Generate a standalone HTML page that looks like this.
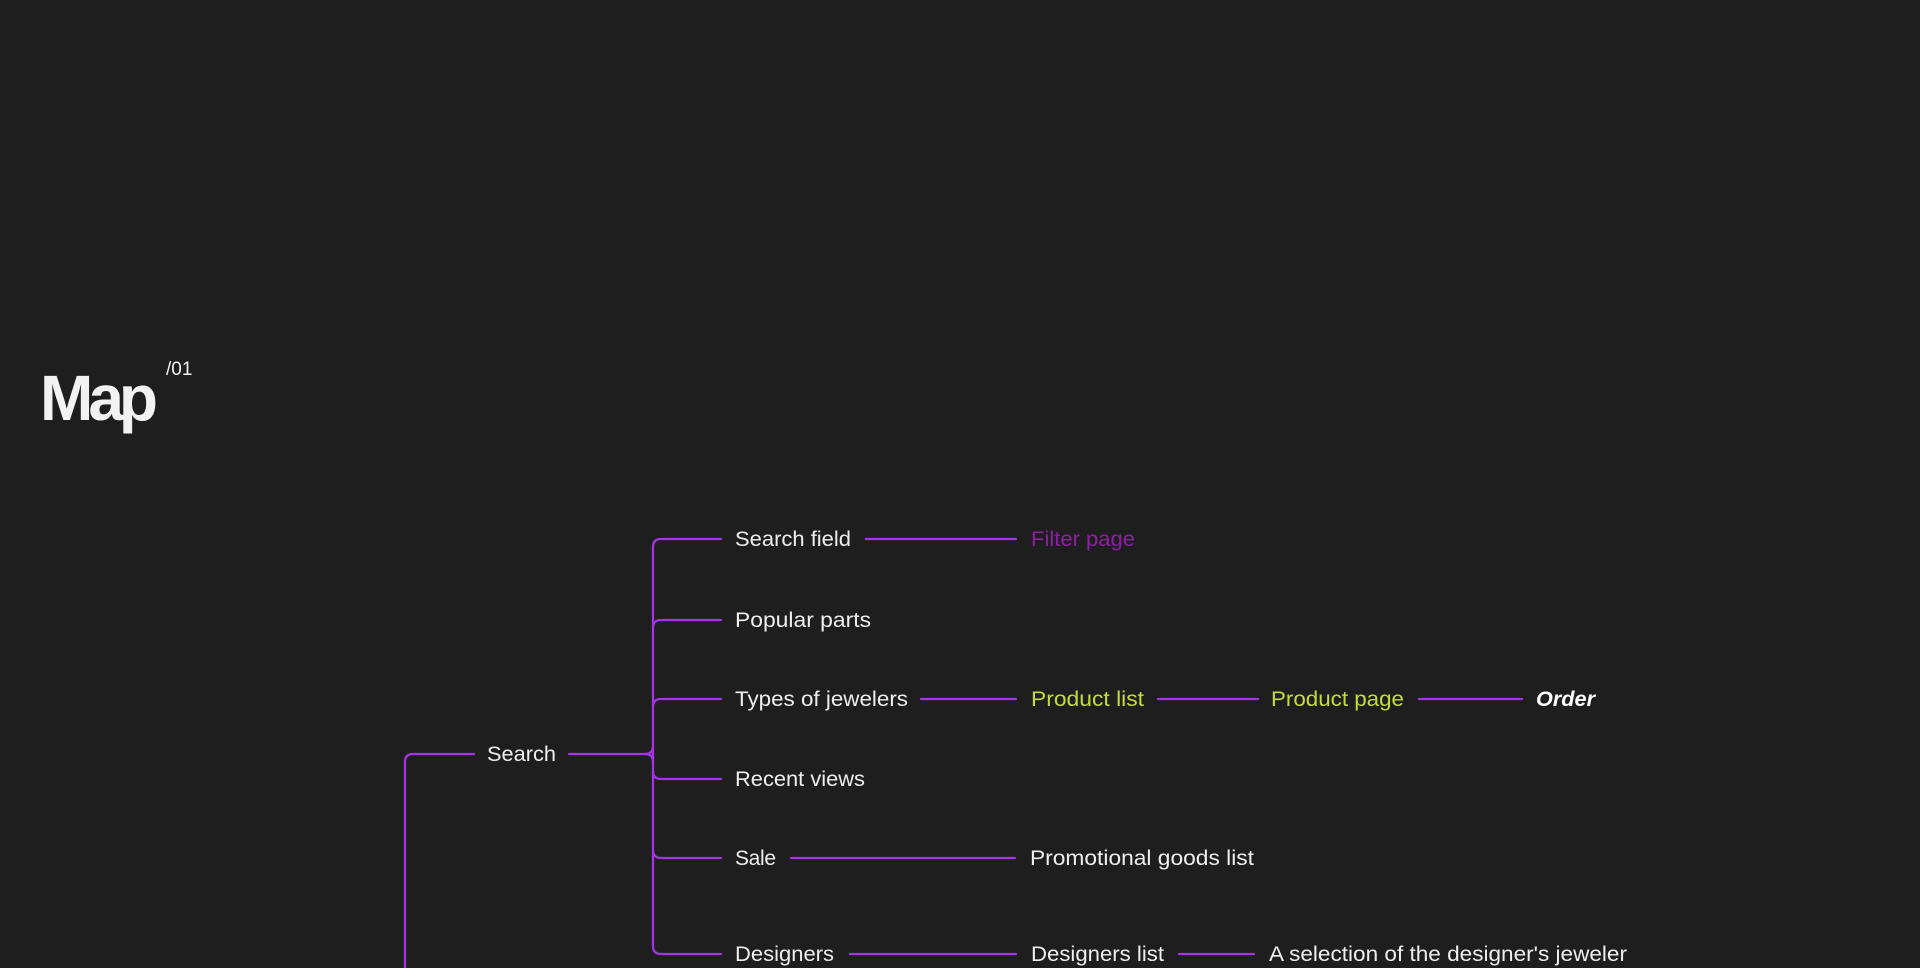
<!DOCTYPE html>
<html><head><meta charset="utf-8"><style>
html,body{margin:0;padding:0;background:#1e1e1e;width:1920px;height:968px;overflow:hidden}
svg{display:block}
</style></head><body>
<svg width="1920" height="968" viewBox="0 0 1920 968" xmlns="http://www.w3.org/2000/svg">
<rect width="1920" height="968" fill="#1e1e1e"/>
<text x="40" y="420" font-family="Liberation Sans, sans-serif" font-weight="bold" font-size="64" fill="#f2f2f2" letter-spacing="-5">Map</text>
<text x="166" y="375" font-family="Liberation Sans, sans-serif" font-size="19" fill="#f2f2f2">/01</text>
<g fill="none" stroke="#a733e8" stroke-width="2.2" stroke-linecap="round">
<path d="M474 754 H413 Q405 754 405 762 V968"/>
<path d="M569 754 H645 Q653 754 653 746"/>
<path d="M645 754 Q653 754 653 762"/>
<path d="M721 539 H661 Q653 539 653 547 V946 Q653 954 661 954 H721"/>
<path d="M721 620 H661 Q653 620 653 628"/>
<path d="M721 699 H661 Q653 699 653 707"/>
<path d="M721 779 H661 Q653 779 653 771"/>
<path d="M721 858 H661 Q653 858 653 850"/>
<path d="M866 539 H1016"/>
<path d="M921 699 H1016"/>
<path d="M1158 699 H1258"/>
<path d="M1419 699 H1522"/>
<path d="M791 858 H1015"/>
<path d="M850 954 H1016"/>
<path d="M1179 954 H1254"/>
</g>
<g font-family="Liberation Sans, sans-serif" font-size="21" fill="#eeeeee">
<text x="487" y="761" textLength="69" lengthAdjust="spacingAndGlyphs">Search</text>
<text x="735" y="546" textLength="116" lengthAdjust="spacingAndGlyphs">Search field</text>
<text x="735" y="627" textLength="136" lengthAdjust="spacingAndGlyphs">Popular parts</text>
<text x="735" y="706" textLength="173" lengthAdjust="spacingAndGlyphs">Types of jewelers</text>
<text x="735" y="786" textLength="130" lengthAdjust="spacingAndGlyphs">Recent views</text>
<text x="735" y="865" textLength="41">Sale</text>
<text x="735" y="961" textLength="99" lengthAdjust="spacingAndGlyphs">Designers</text>
<text x="1031" y="546" fill="#8e1fa3" textLength="104" lengthAdjust="spacingAndGlyphs">Filter page</text>
<text x="1031" y="706" fill="#c5dc3a" textLength="113" lengthAdjust="spacingAndGlyphs">Product list</text>
<text x="1271" y="706" fill="#c5dc3a" textLength="133" lengthAdjust="spacingAndGlyphs">Product page</text>
<text x="1536" y="706" font-weight="bold" font-style="italic" fill="#ffffff" textLength="59" lengthAdjust="spacingAndGlyphs">Order</text>
<text x="1030" y="865" textLength="224" lengthAdjust="spacingAndGlyphs">Promotional goods list</text>
<text x="1031" y="961" textLength="133" lengthAdjust="spacingAndGlyphs">Designers list</text>
<text x="1269" y="961" textLength="358" lengthAdjust="spacingAndGlyphs">A selection of the designer's jeweler</text>
</g>
</svg>
</body></html>
